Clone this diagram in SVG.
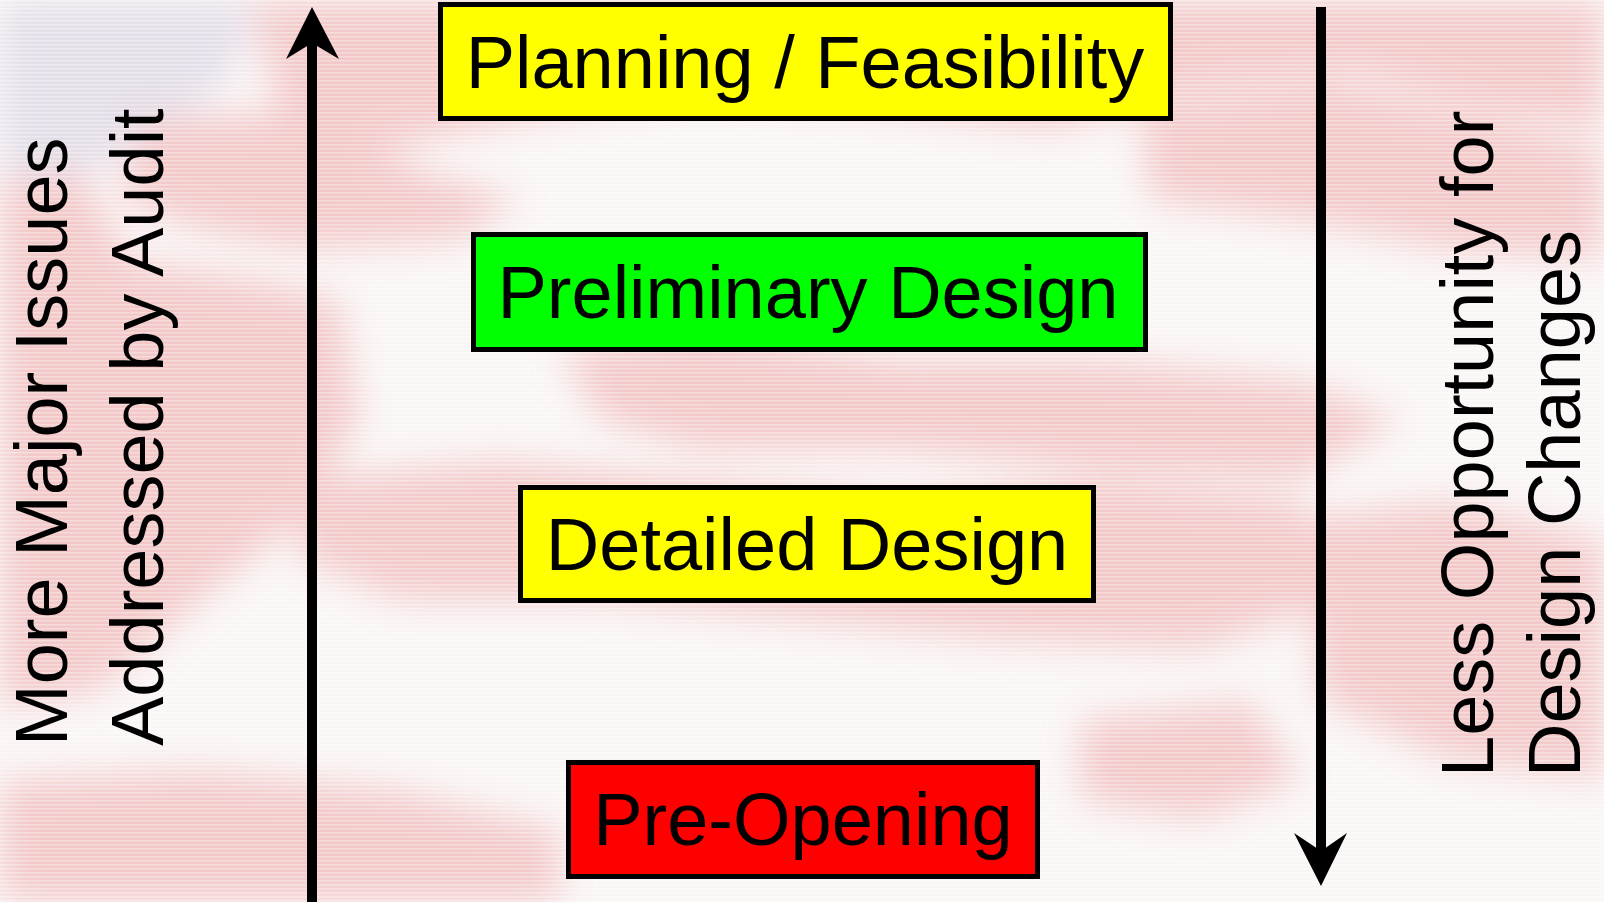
<svg xmlns="http://www.w3.org/2000/svg" width="1604" height="902" viewBox="0 0 1604 902">
<style>
.box{stroke:#000;stroke-width:5}
.lbl{font-family:"Liberation Sans",Arial,sans-serif;font-size:74px;fill:#000}
.mid{text-anchor:middle}
.band{fill:#efb3b3}
.arrow{stroke:#000;stroke-width:10;fill:none}
</style>
<defs>
<filter id="blur" x="-10%" y="-10%" width="120%" height="120%"><feGaussianBlur stdDeviation="18"/></filter>
<pattern id="scan" width="4" height="4" patternUnits="userSpaceOnUse"><rect width="4" height="1.5" fill="#ffffff" opacity="0.35"/></pattern>
</defs>
<g id="background">
<rect width="1604" height="902" fill="#faf6f6"/>
<g filter="url(#blur)" opacity="0.68">
<path d="M0,0 L260,0 L230,80 L150,140 L60,190 L0,200 Z" fill="#d9d3e2"/>
<path class="band" d="M250,0 L1604,0 L1604,130 L1480,110 L1350,70 L1200,90 L1050,130 L900,110 L700,90 L520,120 L380,150 L280,120 Z"/>
<path class="band" d="M140,120 L300,110 L420,170 L520,200 L460,240 L300,250 L200,230 L120,200 Z"/>
<path class="band" d="M1140,110 L1330,80 L1604,150 L1604,260 L1450,250 L1300,220 L1150,200 Z"/>
<path class="band" d="M0,180 L80,170 L130,260 L260,280 L340,300 L360,420 L300,520 L200,600 L100,690 L0,710 Z"/>
<path class="band" d="M560,350 L700,330 L900,360 L1100,360 L1300,380 L1400,420 L1300,480 L1100,470 L900,450 L700,450 L600,420 Z"/>
<path class="band" d="M300,480 L500,460 L700,480 L900,500 L1100,480 L1300,500 L1340,600 L1200,650 L1000,640 L800,620 L600,600 L400,600 L300,560 Z"/>
<path class="band" d="M1300,520 L1450,500 L1604,540 L1604,780 L1450,760 L1320,700 Z"/>
<path class="band" d="M0,780 L200,770 L400,790 L560,830 L560,902 L0,902 Z"/>
<path class="band" d="M1080,720 L1250,700 L1300,780 L1200,820 L1080,800 Z"/>
</g>
<rect width="1604" height="902" fill="url(#scan)"/>
</g>
<g id="connectors">
<line class="arrow" x1="312" y1="40" x2="312" y2="902"/>
<path d="M312,7 L339,59 L312,43 L286,59 Z" fill="#000"/>
<line class="arrow" x1="1321" y1="7" x2="1321" y2="855"/>
<path d="M1321,886 L1347,833 L1321,851 L1294,833 Z" fill="#000"/>
</g>
<g id="node-planning">
<rect class="box" x="440.5" y="4.5" width="730" height="114" fill="#ffff00"/>
<text class="lbl mid" x="805" y="88">Planning / Feasibility</text>
</g>
<g id="node-preliminary">
<rect class="box" x="473.5" y="234.5" width="672" height="115" fill="#00ff00"/>
<text class="lbl mid" x="808" y="318">Preliminary Design</text>
</g>
<g id="node-detailed">
<rect class="box" x="520.5" y="487.5" width="573" height="113" fill="#ffff00"/>
<text class="lbl mid" x="807" y="570">Detailed Design</text>
</g>
<g id="node-preopening">
<rect class="box" x="568.5" y="762.5" width="469" height="114" fill="#ff0000"/>
<text class="lbl mid" x="803" y="845">Pre-Opening</text>
</g>
<g id="label-left">
<text class="lbl" transform="translate(67,746) rotate(-90)">More Major Issues</text>
<text class="lbl" transform="translate(163,746) rotate(-90)">Addressed by Audit</text>
</g>
<g id="label-right">
<text class="lbl" transform="translate(1493,777) rotate(-90)">Less Opportunity for</text>
<text class="lbl" transform="translate(1580,777) rotate(-90)">Design Changes</text>
</g>
</svg>
